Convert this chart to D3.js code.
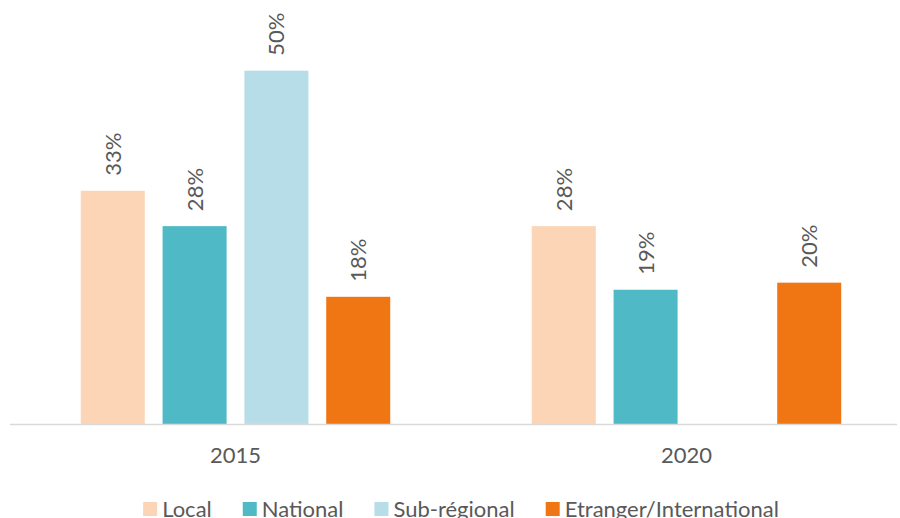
<!DOCTYPE html>
<html>
<head>
<meta charset="utf-8">
<script src="https://cdn.jsdelivr.net/npm/d3@7"></script>
<style>
  body { margin: 0; background: #fff; }
  text { font-family: Lato, "Open Sans", sans-serif; fill: #595959; }
</style>
</head>
<body>
<div id="chart"></div>
<script>
const years = ["2015", "2020"];
const series = ["Local", "National", "Sub-régional", "Etranger/International"];
const colors = ["#fbd5b5", "#4fbac6", "#b7dde8", "#f07614"];
const values2015 = [0.33, 0.28, 0.50, 0.18];
const values2020 = [0.28, 0.19, null, 0.20];

const width = 900;
const height = 518;
const baseY = 424;

const data = years.map((yr, i) => ({
    year: yr,
    vals: series.map((s, j) => ({ key: s, color: colors[j], v: (i == 0 ? values2015 : values2020)[j] }))
}));

const svg = d3.select("#chart")
    .append("svg")
        .attr("width", width)
        .attr("height", height);

const x0 = d3.scaleBand()
    .domain(years)
    .range([10, 912]);

const x1 = d3.scaleBand()
    .domain(series)
    .range([0, x0.bandwidth()])
    .paddingInner(0.2176)
    .paddingOuter(0.865);

const yScale = d3.scaleLinear()
    .domain([0, 0.6])
    .range([baseY, 0]);

const groups = svg.selectAll("g.year")
    .data(data)
    .enter().append("g")
        .attr("class", "year")
        .attr("transform", d => "translate(" + x0(d.year) + ",0)");

const bars = groups.selectAll("g.bar")
    .data(d => d.vals.filter(e => e.v != null))
    .enter().append("g")
        .attr("class", "bar");

bars.append("rect")
    .attr("x", d => x1(d.key))
    .attr("y", d => yScale(d.v))
    .attr("width", x1.bandwidth())
    .attr("height", d => baseY - yScale(d.v))
    .attr("fill", d => d.color);

bars.append("text")
    .attr("transform", d => "translate(" + (x1(d.key) + x1.bandwidth() / 2) + "," + (yScale(d.v) - 15) + ") rotate(-90)")
    .attr("dy", "0.36em")
    .attr("font-size", 22)
    .text(d => Math.round(d.v * 100) + "%");

// axis
svg.append("line")
    .attr("x1", 10).attr("x2", 897)
    .attr("y1", baseY + 0.5).attr("y2", baseY + 0.5)
    .attr("stroke", "#d9d9d9")
    .attr("stroke-width", 1.5);

svg.selectAll("text.cat")
    .data(years)
    .enter().append("text")
        .attr("class", "cat")
        .attr("x", d => x0(d) + x0.bandwidth() / 2)
        .attr("y", 463)
        .attr("text-anchor", "middle")
        .attr("font-size", 22)
        .text(d => d);

// legend, centered under plot
const legend = svg.append("g");
const items = legend.selectAll("g")
    .data(series)
    .enter().append("g");
items.append("rect")
    .attr("width", 14).attr("height", 14)
    .attr("y", 502)
    .attr("fill", (d, i) => colors[i]);
items.append("text")
    .attr("x", 19)
    .attr("y", 517)
    .attr("font-size", 22)
    .text(d => d);

let pos = 0;
const offsets = [];
items.each(function() {
    offsets.push(pos);
    pos += 19 + this.querySelector("text").getComputedTextLength() + 31;
});
const total = pos - 31;
const start = 461 - total / 2;
items.attr("transform", (d, i) => "translate(" + (start + offsets[i]) + ",0)");
</script>
</body>
</html>
